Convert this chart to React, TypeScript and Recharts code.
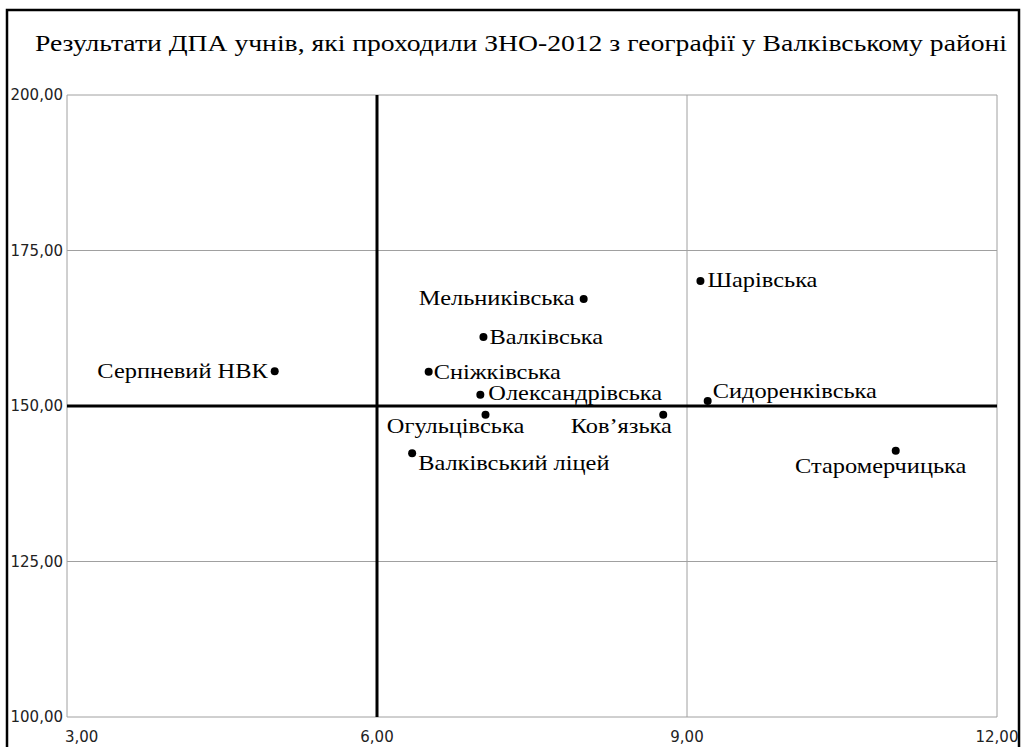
import React from "react";
import {
  ScatterChart,
  Scatter,
  XAxis,
  YAxis,
  CartesianGrid,
  ReferenceLine,
} from "recharts";

const schools = [
  "Серпневий НВК",
  "Мельниківська",
  "Валківська",
  "Сніжківська",
  "Олександрівська",
  "Огульцівська",
  "Ков’язька",
  "Валківський ліцей",
  "Шарівська",
  "Сидоренківська",
  "Старомерчицька",
];
const dpaScores = [5.01, 8.0, 7.03, 6.5, 7.0, 7.05, 8.77, 6.34, 9.13, 9.2, 11.02];
const znoScores = [155.6, 167.2, 161.1, 155.5, 151.8, 148.6, 148.6, 142.4, 170.1, 150.8, 142.8];
const xTicks = [3, 6, 9, 12];
const yTicks = [100, 125, 150, 175, 200];
const title =
  "Результати ДПА учнів, які проходили ЗНО-2012 з географії у Валківському районі";

const data = schools.map((name, i) => ({ name, x: dpaScores[i], y: znoScores[i] }));

// label placement (style only)
const labelStyle: Record<string, { anchor: "start" | "middle" | "end"; dx: number; dy: number }> = {
  "Серпневий НВК": { anchor: "end", dx: -7, dy: 7 },
  "Мельниківська": { anchor: "end", dx: -9, dy: 6 },
  "Валківська": { anchor: "start", dx: 6, dy: 7 },
  "Сніжківська": { anchor: "start", dx: 5, dy: 7 },
  "Олександрівська": { anchor: "start", dx: 8, dy: 5 },
  "Огульцівська": { anchor: "middle", dx: -30, dy: 18 },
  "Ков’язька": { anchor: "middle", dx: -42, dy: 18 },
  "Валківський ліцей": { anchor: "start", dx: 6, dy: 17 },
  "Шарівська": { anchor: "start", dx: 7, dy: 6 },
  "Сидоренківська": { anchor: "start", dx: 5, dy: -3 },
  "Старомерчицька": { anchor: "middle", dx: -15, dy: 22 },
};

const serif = "'Liberation Serif', 'Times New Roman', serif";
const fmt = (v: number) => v.toFixed(2).replace(".", ",");

const PointShape = (props: any) => {
  const { cx, cy, payload } = props;
  const s = labelStyle[payload.name] || { anchor: "start", dx: 6, dy: 6 };
  return (
    <g>
      <circle cx={cx} cy={cy} r={4} fill="#000" />
      <text
        transform={`translate(${cx + s.dx},${cy + s.dy}) scale(1.22,1)`}
        x={0}
        y={0}
        textAnchor={s.anchor}
        fontFamily={serif}
        fontSize={20}
        fill="#000"
      >
        {payload.name}
      </text>
    </g>
  );
};

const YTick = (props: any) => {
  const { x, y, payload } = props;
  return (
    <text x={x} y={y + 5} textAnchor="end" fontFamily="'DejaVu Sans', sans-serif" fontSize={15} fill="#222">
      {fmt(payload.value)}
    </text>
  );
};

const XTick = (props: any) => {
  const { x, y, payload, index } = props;
  const anchor = index === 0 ? "start" : "middle";
  return (
    <text
      x={index === 0 ? x - 2 : x}
      y={y + 25}
      textAnchor={anchor}
      fontFamily="'DejaVu Sans', sans-serif"
      fontSize={15}
      fill="#222"
    >
      {fmt(payload.value)}
    </text>
  );
};

export default function App() {
  return (
    <div style={{ position: "absolute", left: 0, top: 0, width: 1021, height: 747, background: "#fff", overflow: "hidden" }}>
      <ScatterChart
        width={1021}
        height={747}
        margin={{ top: 95, right: 24, bottom: 0, left: 8 }}
      >
        <CartesianGrid stroke="#a0a0a0" strokeWidth={1} horizontalValues={yTicks} verticalValues={xTicks} />
        <XAxis
          type="number"
          dataKey="x"
          domain={[3, 12]}
          ticks={xTicks}
          axisLine={false}
          tickLine={false}
          tickSize={0}
          tickMargin={0}
          height={30}
          tick={<XTick />}
          interval={0}
        />
        <YAxis
          type="number"
          dataKey="y"
          domain={[100, 200]}
          ticks={yTicks}
          axisLine={false}
          tickLine={false}
          tickSize={0}
          tickMargin={4}
          width={59}
          tick={<YTick />}
          interval={0}
        />
        <ReferenceLine x={6} stroke="#000" strokeWidth={3} />
        <ReferenceLine y={150} stroke="#000" strokeWidth={3} />
        <Scatter data={data} shape={<PointShape />} isAnimationActive={false} />
      </ScatterChart>
      <svg width={1021} height={747} style={{ position: "absolute", left: 0, top: 0, pointerEvents: "none" }}>
        <rect x={7} y={10} width={1012} height={760} fill="none" stroke="#000" strokeWidth={2.5} />
        <text
          x={35}
          y={51}
          textLength={972}
          lengthAdjust="spacingAndGlyphs"
          fontFamily={serif}
          fontSize={24}
          fill="#000"
        >
          {title}
        </text>
      </svg>
    </div>
  );
}
